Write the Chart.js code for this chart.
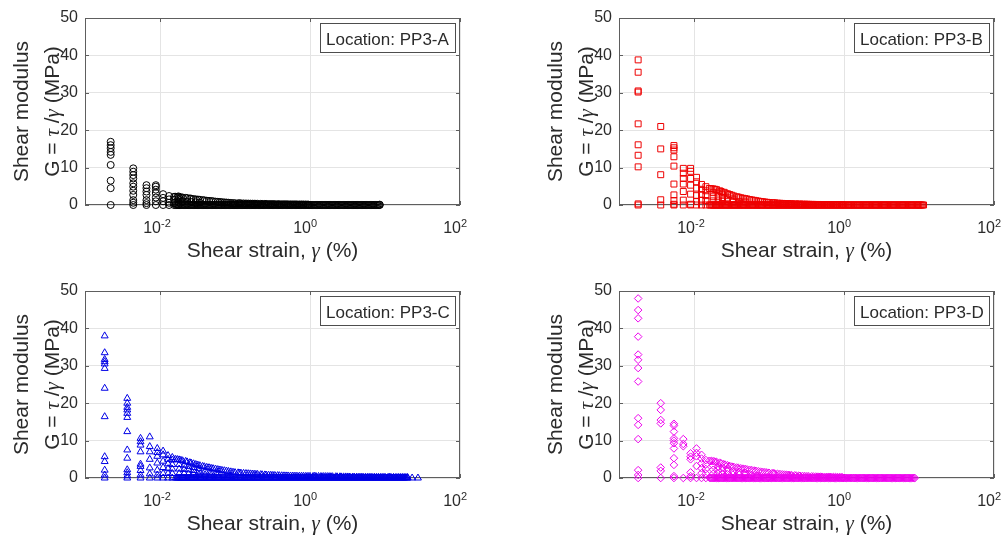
<!DOCTYPE html>
<html>
<head>
<meta charset="utf-8">
<script src="https://cdn.jsdelivr.net/npm/chart.js"></script>
<style>
  body { margin: 0; background: #fff; width: 1006px; height: 536px; position: relative; overflow: hidden; }
  .panel { position: absolute; width: 503px; height: 268px; }
</style>
</head>
<body>
<div class="panel" style="left:0;top:0"><canvas id="chartA" width="503" height="268"></canvas></div>
<div class="panel" style="left:534px;top:0"><canvas id="chartB" width="503" height="268"></canvas></div>
<div class="panel" style="left:0;top:273px"><canvas id="chartC" width="503" height="268"></canvas></div>
<div class="panel" style="left:534px;top:273px"><canvas id="chartD" width="503" height="268"></canvas></div>
<script>
// axis ticks
const xTickValues = [1e-2, 1, 1e2];
const xTickExponents = ['-2', '0', '2'];
const yTickValues = [0, 10, 20, 30, 40, 50];

// axis titles, split into parts so the greek letters can be italic
const xTitle = [['Shear strain, ', 'n'], ['γ', 'g'], [' (%)', 'n']];
const yTitle1 = [['Shear modulus', 'n']];
const yTitle2 = [['G = ', 'n'], ['τ', 'g'], [' /', 'n'], ['γ', 'g'], [' (MPa)', 'n']];

const panelLabels = ['Location: PP3-A', 'Location: PP3-B', 'Location: PP3-C', 'Location: PP3-D'];

// low strain levels (%) and the shear modulus values read at each level (MPa)
const strainA = [0.0022, 0.0044, 0.0066, 0.0088, 0.011, 0.0132, 0.0154, 0.0176, 0.02, 0.023, 0.026, 0.03, 0.034, 8.5];
const modulusA = [
    [0, 4.5, 6.5, 10.7, 13.4, 14.2, 15.2, 16, 16.9],
    [0, 0.6, 1.3, 2.7, 3.8, 4.9, 5.8, 7.1, 8, 8.9, 9.8],
    [0, 0.5, 1.3, 2.7, 3.6, 4.5, 5.3],
    [0, 1, 2, 3.2, 4.1, 4.9, 5.3],
    [0, 1, 1.9, 2.9],
    [0, 0.6, 1.5, 2.4],
    [0, 0.5, 1.4, 2.2],
    [0, 0.8, 1.6, 2.3],
    [1], [0.9], [0.8], [0.7], [0.6],
    [0, 0.1]
];

const strainB = [0.0018, 0.0036, 0.0054, 0.0072, 0.009, 0.0108, 0.0126, 0.0144, 0.018, 0.021, 0.024, 0.028, 0.033, 0.04, 0.048];
const modulusB = [
    [0, 0.3, 10.2, 13.3, 16.1, 21.7, 30.2, 30.5, 35.5, 38.8],
    [0, 1.4, 8.1, 15, 21],
    [0, 0.2, 1.2, 2.7, 5.6, 10.4, 12.9, 14.7, 15.3, 15.9],
    [0, 1.3, 3.6, 5.6, 7.1, 8.5, 9.8],
    [0, 0.2, 2.9, 5.3, 7.1, 9, 9.8],
    [0, 1, 2.5, 4.5, 6.2, 7.4],
    [0, 1.3, 2.8, 4.2, 5.5],
    [0, 1.2, 2.5, 3.8, 4.9],
    [1.1, 2.2, 3.3], [1.1, 2.2, 3.2], [1, 2, 2.9], [0.9, 1.9], [0.8, 1.6], [0.9], [0.8]
];

const strainC = [0.00183, 0.00366, 0.0055, 0.0073, 0.0092, 0.011, 0.0128, 0.0146, 0.018, 0.021, 0.024, 0.028, 0.033, 0.04, 0.048, 0.058, 0.07, 0.085, 23, 27.5];
const modulusC = [
    [0, 0.8, 2.1, 4.4, 5.7, 16.4, 24, 29.3, 30.5, 31.1, 31.7, 33.5, 38],
    [0, 0.6, 1.4, 2.2, 5.3, 7.5, 12.4, 16.2, 17.3, 18.2, 18.9, 20, 21.3],
    [0, 0.8, 2, 3.1, 3.7, 7, 8.8, 9.7, 10.6],
    [0, 1.1, 2.7, 5, 7, 8.4, 11],
    [0, 0.8, 2.1, 4, 5.8, 6.8, 7.9],
    [0, 1.2, 2.8, 4.5, 6.2, 7.2],
    [0, 1.2, 2.5, 3.8, 5, 6],
    [0, 1.2, 2.4, 3.6, 4.8, 5.5],
    [1.2, 2.4, 3.6], [1.2, 2.3, 3.4], [1.1, 2.2, 3.1], [1, 2, 2.8], [0.9, 1.8, 2.5],
    [0.9, 1.8], [0.8, 1.6], [0.7, 1.4], [0.7], [0.6],
    [0], [0]
];

const strainD = [0.0018, 0.0036, 0.0054, 0.0072, 0.009, 0.0108, 0.0126, 0.0144, 0.018, 0.021, 0.024, 0.028, 0.033, 0.04, 0.048, 0.058, 0.07];
const modulusD = [
    [0, 0.8, 2.1, 10.4, 14.2, 16, 25.8, 29.4, 31.6, 33, 37.8, 42.7, 44.9, 48],
    [0, 1.9, 2.8, 14.6, 15.5, 18.2, 20],
    [0, 0.5, 3.5, 5.3, 7.9, 9.3, 10, 10.6, 12.4, 14, 14.5],
    [0, 8.5, 9.1, 10.4],
    [0, 0.5, 1.5, 5, 5.7, 6.6],
    [0, 3.2, 5.8, 6.7, 7.9],
    [0, 1.3, 2.6, 3.9, 5.2, 6.2],
    [0, 1.2, 2.4, 3.6, 4.8],
    [1.1, 2.2, 3.3], [1.1, 2.2, 3.1], [1, 2, 2.8], [1, 1.9, 2.5], [0.9, 1.8], [0.9, 1.7], [0.8, 1.4], [0.7], [0.6]
];

// dense band on the zero line: strain levels (%) of the many near-zero points
const baseStrain = [
    0.0162, 0.0168, 0.0174, 0.0180, 0.0186, 0.0193, 0.0200, 0.0207, 0.0214, 0.0221, 0.0229, 0.0237, 0.0245, 0.0254,
    0.0263, 0.0272, 0.0282, 0.0292, 0.0302, 0.0313, 0.0324, 0.0335, 0.0347, 0.0359, 0.0372, 0.0385, 0.0398, 0.0412,
    0.0427, 0.0442, 0.0457, 0.0473, 0.0490, 0.0507, 0.0525, 0.0543, 0.0562, 0.0582, 0.0603, 0.0624, 0.0646, 0.0668,
    0.0692, 0.0716, 0.0741, 0.0767, 0.0794, 0.0822, 0.0851, 0.0881, 0.0912, 0.0944, 0.0977,
    0.100, 0.1035, 0.107, 0.111, 0.115, 0.119, 0.123, 0.127, 0.132, 0.136, 0.141, 0.146, 0.151, 0.157, 0.162, 0.168,
    0.174, 0.180, 0.186, 0.193, 0.200, 0.207, 0.214, 0.221, 0.229, 0.237, 0.245, 0.254, 0.263, 0.272, 0.282, 0.292,
    0.302, 0.313, 0.324, 0.335, 0.347, 0.359, 0.372, 0.385, 0.398, 0.412, 0.427, 0.442, 0.457, 0.473, 0.490, 0.507,
    0.525, 0.543, 0.562, 0.582, 0.603, 0.624, 0.646, 0.668, 0.692, 0.716, 0.741, 0.767, 0.794, 0.822, 0.851, 0.881,
    0.912, 0.944, 0.977,
    1.00, 1.035, 1.07, 1.11, 1.15, 1.19, 1.23, 1.27, 1.32, 1.36, 1.41, 1.46, 1.51, 1.57, 1.62, 1.68,
    1.74, 1.80, 1.86, 1.93, 2.00, 2.07, 2.14, 2.21, 2.29, 2.37, 2.45, 2.54, 2.63, 2.72, 2.82, 2.92,
    3.02, 3.13, 3.24, 3.35, 3.47, 3.59, 3.72, 3.85, 3.98, 4.12, 4.27, 4.42, 4.57, 4.73, 4.90, 5.07,
    5.25, 5.43, 5.62, 5.82, 6.03, 6.24, 6.46, 6.68, 6.92, 7.16, 7.41, 7.67, 7.94, 8.22, 8.51, 8.81,
    9.12, 9.44, 9.77,
    10.0, 10.35, 10.7, 11.1, 11.5, 11.9, 12.3, 12.7, 13.2, 13.6, 14.1, 14.6, 15.1, 15.7, 16.2, 16.8,
    17.4, 18.0, 18.6, 19.3, 20.0
];
// last strain of the band in each panel (%)
const tailEnd = [8.5, 11.5, 20, 8.81];

// upper edge of the band: strain levels (%) and values per panel (MPa)
const tailStrain = [
    0.016, 0.017, 0.018, 0.019, 0.020, 0.022, 0.023, 0.025, 0.026, 0.028,
    0.030, 0.032, 0.034, 0.037, 0.039, 0.042, 0.045, 0.048, 0.051, 0.055,
    0.059, 0.063, 0.067, 0.072, 0.077, 0.082, 0.088, 0.094,
    0.10, 0.11, 0.115, 0.12, 0.13, 0.14, 0.15, 0.16, 0.17, 0.18,
    0.19, 0.20, 0.22, 0.23, 0.25, 0.26, 0.28, 0.30, 0.32, 0.34,
    0.37, 0.39, 0.42, 0.45, 0.48, 0.51, 0.55, 0.59, 0.63, 0.67,
    0.72, 0.77, 0.82, 0.88, 0.94,
    1.0, 1.1, 1.15, 1.2, 1.3, 1.4, 1.5, 1.6, 1.7, 1.8,
    1.9, 2.0, 2.2, 2.3, 2.5, 2.6, 2.8, 3.0, 3.2, 3.4,
    3.7, 3.9, 4.2, 4.5, 4.8, 5.1, 5.5, 5.9, 6.3, 6.7,
    7.2, 7.7, 8.2, 8.8, 9.4,
    10, 11, 11.5, 12, 13, 14, 15, 16, 17, 18, 19, 20
];
const tailTopA = [
    2.2, 2.15, 2.1, 2.05, 2.0, 1.9, 1.85, 1.75, 1.7, 1.6, 1.5, 1.45, 1.4, 1.3, 1.25, 1.15, 1.1, 1.05, 1.0, 0.9,
    0.85, 0.8, 0.75, 0.7, 0.65, 0.6, 0.55, 0.5,
    0.48, 0.46, 0.45, 0.44, 0.42, 0.4, 0.38, 0.36, 0.35, 0.34, 0.33, 0.32, 0.3, 0.29, 0.28, 0.27, 0.26, 0.25,
    0.24, 0.23, 0.22, 0.21, 0.2, 0.2, 0.19, 0.18, 0.18, 0.17, 0.17, 0.16, 0.15, 0.15, 0.14, 0.14, 0.13
];
const tailTopB = [
    4.4, 4.35, 4.3, 4.2, 4.1, 3.8, 3.6, 3.4, 3.2, 3.0, 2.8, 2.6, 2.4, 2.2, 2.1, 1.95, 1.8, 1.7, 1.6, 1.45,
    1.35, 1.25, 1.15, 1.05, 0.95, 0.88, 0.8, 0.72,
    0.66, 0.6, 0.57, 0.55, 0.5, 0.46, 0.43, 0.4, 0.38, 0.36, 0.34, 0.32, 0.29, 0.27, 0.25, 0.24, 0.22, 0.21,
    0.2, 0.18, 0.17, 0.16, 0.15, 0.15, 0.14, 0.13, 0.13, 0.12, 0.12, 0.11, 0.11, 0.1, 0.1, 0.1, 0.1
];
const tailTopC = [
    5.0, 4.95, 4.85, 4.75, 4.6, 4.45, 4.3, 4.1, 4.0, 3.8, 3.6, 3.45, 3.3, 3.1, 3.0, 2.85, 2.75, 2.6, 2.5, 2.4,
    2.25, 2.15, 2.05, 1.95, 1.85, 1.75, 1.65, 1.55,
    1.45, 1.38, 1.34, 1.3, 1.25, 1.2, 1.15, 1.1, 1.06, 1.02, 0.98, 0.95, 0.9, 0.87, 0.83, 0.8, 0.77, 0.74,
    0.71, 0.68, 0.65, 0.62, 0.6, 0.58, 0.56, 0.55, 0.54, 0.52, 0.5, 0.49, 0.48, 0.47, 0.46, 0.45, 0.45,
    0.44, 0.43, 0.42, 0.42, 0.41, 0.4, 0.39, 0.38, 0.37, 0.36, 0.35, 0.34, 0.33, 0.32, 0.31, 0.3, 0.3, 0.29,
    0.28, 0.27, 0.26, 0.26, 0.25, 0.24, 0.24, 0.23, 0.23, 0.22, 0.22, 0.21, 0.21, 0.2, 0.2, 0.2, 0.2,
    0.2, 0.19, 0.19, 0.18, 0.18, 0.17, 0.17, 0.16, 0.16, 0.15, 0.15, 0.15
];
const tailTopD = [
    4.6, 4.55, 4.5, 4.4, 4.3, 4.1, 3.9, 3.7, 3.55, 3.4, 3.2, 3.05, 2.95, 2.8, 2.7, 2.6, 2.5, 2.4, 2.3, 2.2,
    2.1, 2.0, 1.9, 1.8, 1.7, 1.65, 1.55, 1.48,
    1.4, 1.3, 1.25, 1.2, 1.12, 1.05, 0.98, 0.92, 0.87, 0.82, 0.78, 0.75, 0.7, 0.66, 0.62, 0.58, 0.54, 0.5,
    0.47, 0.44, 0.42, 0.4, 0.38, 0.36, 0.35, 0.33, 0.32, 0.3, 0.29, 0.28, 0.27, 0.26, 0.26, 0.25, 0.25
];

const fontFamily = "'Liberation Sans', Arial, Helvetica, sans-serif";
const greekFamily = "'Liberation Serif', 'Times New Roman', serif";
const textColor = '#2b2b2b';

function setFont(ctx, kind, size) {
    if (kind === 'g') ctx.font = `italic ${size}px ${greekFamily}`;
    else ctx.font = `${size}px ${fontFamily}`;
}

// draw text made of parts, centred on x, baseline y
function drawParts(ctx, parts, x, y, size) {
    let total = 0;
    parts.forEach(([t, k]) => { setFont(ctx, k, size); total += ctx.measureText(t).width; });
    let cx = x - total / 2;
    ctx.textAlign = 'left';
    parts.forEach(([t, k]) => {
        setFont(ctx, k, size);
        ctx.fillText(t, cx, y);
        cx += ctx.measureText(t).width;
    });
}

const panelFrame = {
    id: 'panelFrame',
    beforeDatasetsDraw(chart) {
        const { ctx, chartArea: a, scales: { x, y } } = chart;
        ctx.save();
        ctx.strokeStyle = '#5e5e5e';
        ctx.lineWidth = 1;
        ctx.strokeRect(a.left + 0.5, a.top + 0.5, a.right - a.left - 1, a.bottom - a.top - 1);
        ctx.beginPath();
        yTickValues.forEach(v => {
            const py = Math.round(y.getPixelForValue(v)) + 0.5;
            ctx.moveTo(a.left, py); ctx.lineTo(a.left + 4, py);
            ctx.moveTo(a.right, py); ctx.lineTo(a.right - 4, py);
        });
        xTickValues.forEach(v => {
            const px = Math.round(x.getPixelForValue(v)) + 0.5;
            ctx.moveTo(px, a.bottom); ctx.lineTo(px, a.bottom - 4);
            ctx.moveTo(px, a.top); ctx.lineTo(px, a.top + 4);
        });
        ctx.stroke();
        ctx.restore();
    },
    afterDraw(chart, args, opts) {
        const { ctx, chartArea: a, scales: { x } } = chart;
        ctx.save();
        ctx.fillStyle = textColor;
        ctx.textBaseline = 'alphabetic';

        // x tick labels as powers of ten
        xTickValues.forEach((v, i) => {
            const px = x.getPixelForValue(v);
            ctx.font = `16px ${fontFamily}`;
            ctx.textAlign = 'right';
            ctx.fillText('10', px + 1, a.bottom + 28);
            ctx.font = `11px ${fontFamily}`;
            ctx.textAlign = 'left';
            ctx.fillText(xTickExponents[i], px + 1, a.bottom + 22);
        });

        // axis titles
        drawParts(ctx, xTitle, (a.left + a.right) / 2, a.bottom + 52, 21);
        const cy = (a.top + a.bottom) / 2;
        ctx.save();
        ctx.translate(a.left - 57, cy);
        ctx.rotate(-Math.PI / 2);
        drawParts(ctx, yTitle1, 0, 0, 21);
        ctx.restore();
        ctx.save();
        ctx.translate(a.left - 26, cy);
        ctx.rotate(-Math.PI / 2);
        drawParts(ctx, yTitle2, 0, 0, 21);
        ctx.restore();

        // location box
        const bx = a.right - 140, by = a.top + 5;
        ctx.fillStyle = '#fff';
        ctx.fillRect(bx, by, 135, 29);
        ctx.strokeStyle = '#4d4d4d';
        ctx.lineWidth = 1;
        ctx.strokeRect(bx + 0.5, by + 0.5, 135, 29);
        ctx.fillStyle = textColor;
        ctx.font = `17px ${fontFamily}`;
        ctx.textAlign = 'left';
        ctx.fillText(opts.label, bx + 6, by + 22);
        ctx.restore();
    }
};

function buildPoints(strains, moduli, tailTop, end) {
    const points = [];
    strains.forEach((s, i) => moduli[i].forEach(g => points.push({ x: s, y: g })));
    baseStrain.forEach(s => { if (s <= end) points.push({ x: s, y: 0 }); });
    tailTop.forEach((g, i) => points.push({ x: tailStrain[i], y: g }));
    return points;
}

function makePanel(canvasId, label, points, shape, radius, color) {
    new Chart(document.getElementById(canvasId), {
        type: 'scatter',
        data: {
            datasets: [{
                data: points,
                pointStyle: shape,
                pointRadius: radius,
                pointBorderColor: color,
                pointBackgroundColor: 'rgba(0,0,0,0)',
                pointBorderWidth: 1,
                clip: false
            }]
        },
        options: {
            responsive: false,
            animation: false,
            layout: { padding: { top: 18, right: 43, left: 0, bottom: 0 } },
            scales: {
                x: {
                    type: 'logarithmic',
                    min: 1e-3,
                    max: 1e2,
                    afterBuildTicks: scale => { scale.ticks = xTickValues.map(v => ({ value: v })); },
                    afterFit: scale => { scale.height = 63; },
                    ticks: { display: false },
                    grid: { color: '#e4e4e4', drawTicks: false },
                    border: { display: false }
                },
                y: {
                    type: 'linear',
                    min: 0,
                    max: 50,
                    afterFit: scale => { scale.width = 85; },
                    ticks: {
                        stepSize: 10,
                        padding: 7,
                        color: textColor,
                        font: { family: fontFamily, size: 16 }
                    },
                    grid: { color: '#e4e4e4', drawTicks: false },
                    border: { display: false }
                }
            },
            plugins: {
                legend: { display: false },
                tooltip: { enabled: false },
                panelFrame: { label: label }
            }
        },
        plugins: [panelFrame]
    });
}

document.addEventListener('DOMContentLoaded', () => {
    makePanel('chartA', panelLabels[0], buildPoints(strainA, modulusA, tailTopA, tailEnd[0]), 'circle', 3.5, '#000000');
    makePanel('chartB', panelLabels[1], buildPoints(strainB, modulusB, tailTopB, tailEnd[1]), 'rect', 4.2, '#ee0000');
    makePanel('chartC', panelLabels[2], buildPoints(strainC, modulusC, tailTopC, tailEnd[2]), 'triangle', 4, '#0000e6');
    makePanel('chartD', panelLabels[3], buildPoints(strainD, modulusD, tailTopD, tailEnd[3]), 'rectRot', 3.8, '#ee00ee');
});
</script>
</body>
</html>
